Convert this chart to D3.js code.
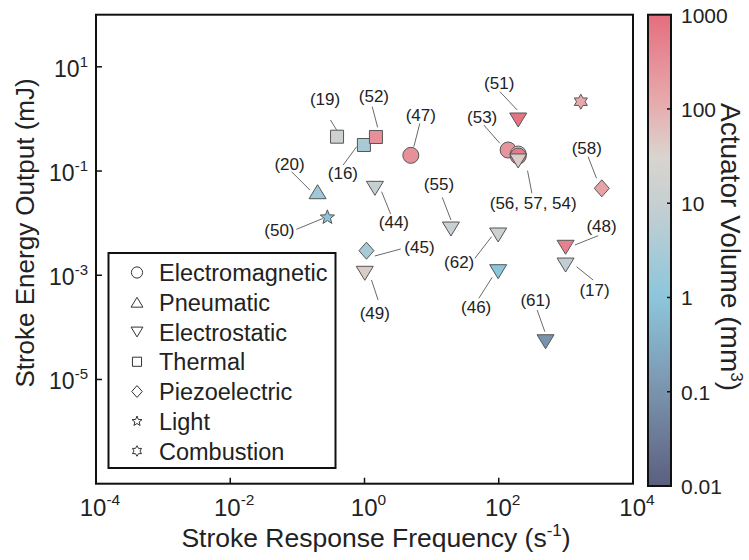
<!DOCTYPE html>
<html>
<head>
<meta charset="utf-8">
<script src="https://cdn.jsdelivr.net/npm/d3@7"></script>
<style>
  body { margin: 0; background: #fff; }
  text { font-family: "Liberation Sans", Arial, sans-serif; fill: #222; }
</style>
</head>
<body>
<div id="chart"></div>
<script>
// one entry per actuator (reference number, mechanism, frequency s^-1, energy mJ, volume mm^3)
const refs = ["19", "16", "52", "47", "53", "56", "57", "54", "51", "c1", "58", "44", "55", "62", "48", "17", "46", "61", "20", "50", "45", "49"];
const mechanism = ["thermal", "thermal", "thermal", "em", "em", "em", "em", "es", "es", "comb", "piezo", "es", "es", "es", "es", "es", "es", "es", "pneu", "light", "piezo", "es"];
const frequency = [0.39, 0.98, 1.48, 4.9, 138, 195, 195, 195, 195, 1670, 3430, 1.43, 19.4, 98, 990, 990, 98, 498, 0.2, 0.28, 1.07, 1.01];
const energy = [0.456, 0.316, 0.45, 0.2, 0.253, 0.212, 0.194, 0.156, 0.953, 2.14, 0.0466, 0.0466, 0.00772, 0.00592, 0.00344, 0.00157, 0.00117, 5.3e-5, 0.0401, 0.0129, 0.00296, 0.00109];
const volume = [15, 3, 300, 300, 250, 20, 600, 40, 800, 120, 150, 10, 12, 15, 500, 8, 1, 0.1, 2, 1, 3, 40];

// callouts
const labelText = ["(19)", "(52)", "(16)", "(47)", "(53)", "(56, 57, 54)", "(51)", "(58)", "(44)", "(55)", "(62)", "(48)", "(17)", "(46)", "(61)", "(20)", "(50)", "(45)", "(49)"];
const labelAnchor = ["19", "52", "16", "47", "53", "54", "51", "58", "44", "55", "62", "48", "17", "46", "61", "20", "50", "45", "49"];
// text centre offset from the marker, in px
const labelOffset = [[-12, -38], [-2, -41], [-21, 28], [10, -40], [-26, -33], [15, 42], [-19, -37], [-15, -40], [19, 34], [-12, -45], [-39, 27], [36, -21], [29, 25], [-22, 35], [-10, -42], [-28, -28], [-48, 13], [53, -4], [10, 40]];
// leader line from/to, relative to the marker
const leader = [[-6.6, -16.7, 0, -6], [-3.7, -30.3, 1.7, -9.7], [-20.7, 20, -7.3, 1.7], [9, -32, 3, -8.6], [-24.3, -25, -8.3, -6.7],
  [13.7, 32.3, 9.3, 9.7], [-18.3, -28.3, -1, -10], [-13.7, -31.6, -5.3, -10], [15.7, 25.7, 6.7, 3.4], [-8.7, -31.7, 0, -9],
  [-23.3, 23.3, -6.6, 1.7], [32.6, -11.6, 9.3, -2.3], [27.6, 15, 11, 1.7], [-19.3, 26.6, -6, 5.6], [-8.4, -31.7, -0.7, -10],
  [-26, -20, -7.7, -1.7], [-31, 12, -4.4, 1], [34.3, -1.7, 8.3, 5.3], [13.3, 26.7, 6.7, 6.7]];

const legendNames = ["Electromagnetic", "Pneumatic", "Electrostatic", "Thermal", "Piezoelectric", "Light", "Combustion"];
const legendKeys = ["em", "pneu", "es", "thermal", "piezo", "light", "comb"];

const xTickExp = [-4, -2, 0, 2, 4];
const yTickExp = [1, -1, -3, -5];
const cbarTicks = [1000, 100, 10, 1, 0.1, 0.01];
const cbarTickLabels = ["1000", "100", "10", "1", "0.1", "0.01"];

// colormap stops (log10 volume -> colour)
const cmapStops = [-2, -1, 0, 1, 1.5, 2, 3];
const cmapColors = ["#5b5f7e", "#7a93ad", "#8cc6dc", "#c6cfd1", "#d9d4ce", "#e6afb1", "#e56e7e"];

const W = 749, H = 560;
const PLOT = { left: 96, right: 633, top: 14.7, bottom: 483.7 };
const CBAR = { left: 648, right: 671 };

const svg = d3.select("#chart").append("svg")
  .attr("width", W).attr("height", H);

const x = d3.scaleLog().domain([1e-4, 1e4]).range([PLOT.left, PLOT.right]);
const y = d3.scaleLog().domain([1e-7, 1e2]).range([PLOT.bottom, PLOT.top]);
const cLog = d3.scaleLinear().domain(cmapStops).range(cmapColors).interpolate(d3.interpolateRgb);
const color = v => cLog(Math.log10(v));

// marker shapes, centred on 0,0
function shape(type, k) {
  const p = d3.path();
  if (type === "em") {
    p.arc(0, 0, 8 * k, 0, 2 * Math.PI);
  } else if (type === "pneu" || type === "es") {
    const w = 8.5 * k, h = 7 * k, s = type === "es" ? -1 : 1;
    p.moveTo(-w, h * s); p.lineTo(w, h * s); p.lineTo(0, -h * s); p.closePath();
  } else if (type === "thermal") {
    const a = 6.5 * k;
    p.rect(-a, -a, 2 * a, 2 * a);
  } else if (type === "piezo") {
    const w = 7.5 * k, h = 8.5 * k;
    p.moveTo(0, -h); p.lineTo(w, 0); p.lineTo(0, h); p.lineTo(-w, 0); p.closePath();
  } else if (type === "light") {
    const ro = 7.5 * k, ri = 3.2 * k;
    for (let i = 0; i < 10; i++) {
      const r = i % 2 ? ri : ro, a = -Math.PI / 2 + i * Math.PI / 5;
      i ? p.lineTo(r * Math.cos(a), r * Math.sin(a)) : p.moveTo(r * Math.cos(a), r * Math.sin(a));
    }
    p.closePath();
  } else if (type === "comb") {
    const ro = 7.5 * k, ri = 4.3 * k;
    for (let i = 0; i < 12; i++) {
      const r = i % 2 ? ri : ro, a = -Math.PI / 2 + i * Math.PI / 6;
      i ? p.lineTo(r * Math.cos(a), r * Math.sin(a)) : p.moveTo(r * Math.cos(a), r * Math.sin(a));
    }
    p.closePath();
  }
  return p.toString();
}

// frame
svg.append("rect")
  .attr("x", PLOT.left).attr("y", PLOT.top)
  .attr("width", PLOT.right - PLOT.left).attr("height", PLOT.bottom - PLOT.top)
  .attr("fill", "none").attr("stroke", "#111").attr("stroke-width", 2);

// ticks (inward)
svg.append("g").selectAll("line").data(xTickExp).join("line")
  .attr("x1", d => x(Math.pow(10, d))).attr("x2", d => x(Math.pow(10, d)))
  .attr("y1", PLOT.bottom).attr("y2", PLOT.bottom - 6)
  .attr("stroke", "#111").attr("stroke-width", 1.5);
svg.append("g").selectAll("line").data(yTickExp).join("line")
  .attr("x1", PLOT.left).attr("x2", PLOT.left + 6)
  .attr("y1", d => y(Math.pow(10, d))).attr("y2", d => y(Math.pow(10, d)))
  .attr("stroke", "#111").attr("stroke-width", 1.5);

// tick labels
const xt = svg.append("g").selectAll("text").data(xTickExp).join("text")
  .attr("x", d => x(Math.pow(10, d)) + 4).attr("y", 516)
  .attr("text-anchor", "middle").style("font-size", "24px");
xt.append("tspan").text("10");
xt.append("tspan").attr("dy", -11).style("font-size", "15.5px").text(d => d);

const yt = svg.append("g").selectAll("text").data(yTickExp).join("text")
  .attr("x", 88).attr("y", d => y(Math.pow(10, d)) + 10)
  .attr("text-anchor", "end").style("font-size", "23px");
yt.append("tspan").text("10");
yt.append("tspan").attr("dy", -10).style("font-size", "15px").text(d => d);

// axis titles
const xTitle = svg.append("text").attr("x", 376).attr("y", 547)
  .attr("text-anchor", "middle").style("font-size", "26.5px");
xTitle.append("tspan").text("Stroke Response Frequency (s");
xTitle.append("tspan").attr("dy", -11).style("font-size", "17px").text("-1");
xTitle.append("tspan").attr("dy", 11).text(")");

svg.append("text")
  .attr("transform", "translate(34,233) rotate(-90)")
  .attr("text-anchor", "middle").style("font-size", "26px")
  .text("Stroke Energy Output (mJ)");

// points
const idx = d3.range(refs.length);
const pos = i => [x(frequency[i]), y(energy[i])];

// leader lines
const g = svg.append("g");
g.selectAll("line").data(labelAnchor).join("line")
  .each(function (r, j) {
    const [px, py] = pos(refs.indexOf(r));
    const l = leader[j];
    d3.select(this).attr("x1", px + l[0]).attr("y1", py + l[1]).attr("x2", px + l[2]).attr("y2", py + l[3]);
  })
  .attr("stroke", "#6a6a6a").attr("stroke-width", 1);

svg.append("g").selectAll("path").data(idx).join("path")
  .attr("d", i => shape(mechanism[i], 1))
  .attr("transform", i => "translate(" + pos(i) + ")")
  .attr("fill", i => color(volume[i]))
  .attr("stroke", "#555").attr("stroke-width", 1);

svg.append("g").selectAll("text").data(labelAnchor).join("text")
  .attr("x", (r, j) => pos(refs.indexOf(r))[0] + labelOffset[j][0])
  .attr("y", (r, j) => pos(refs.indexOf(r))[1] + labelOffset[j][1] + 6)
  .attr("text-anchor", "middle").style("font-size", "17px")
  .text((r, j) => labelText[j]);

// legend
const lg = svg.append("g");
lg.append("rect").attr("x", 108.5).attr("y", 253).attr("width", 227).attr("height", 215)
  .attr("fill", "#fff").attr("stroke", "#111").attr("stroke-width", 2);
const rowY = d3.scaleLinear().domain([0, 6]).range([272.5, 451]);
lg.selectAll("path").data(legendKeys).join("path")
  .attr("d", d => shape(d, 0.7))
  .attr("transform", (d, i) => "translate(137," + rowY(i) + ")")
  .attr("fill", "#fff").attr("stroke", "#333").attr("stroke-width", 1);
lg.selectAll("text").data(legendNames).join("text")
  .attr("x", 159).attr("y", (d, i) => rowY(i) + 8.5)
  .style("font-size", "23.5px").text(d => d);

// colour bar
const cb = d3.scaleLog().domain([0.01, 1000]).range([486, PLOT.top]);
const grad = svg.append("defs").append("linearGradient")
  .attr("id", "cgrad").attr("x1", 0).attr("x2", 0).attr("y1", 1).attr("y2", 0);
grad.selectAll("stop").data(d3.range(0, 1.0001, 0.05)).join("stop")
  .attr("offset", d => d)
  .attr("stop-color", d => cLog(-2 + 5 * d));
svg.append("rect")
  .attr("x", CBAR.left).attr("y", PLOT.top)
  .attr("width", CBAR.right - CBAR.left).attr("height", 486 - PLOT.top)
  .attr("fill", "url(#cgrad)").attr("stroke", "#111").attr("stroke-width", 2);
svg.append("g").selectAll("line").data(cbarTicks.slice(1, -1)).join("line")
  .attr("x1", CBAR.right).attr("x2", CBAR.right - 4)
  .attr("y1", d => cb(d)).attr("y2", d => cb(d))
  .attr("stroke", "#111").attr("stroke-width", 1.5);
svg.append("g").selectAll("text").data(cbarTicks).join("text")
  .attr("x", 681).attr("y", d => cb(d) + 8)
  .style("font-size", "21px")
  .text((d, i) => cbarTickLabels[i]);

const cTitle = svg.append("text")
  .attr("transform", "translate(721,247) rotate(90)")
  .attr("text-anchor", "middle").style("font-size", "28px");
cTitle.append("tspan").text("Actuator Volume (mm");
cTitle.append("tspan").attr("dy", -10).style("font-size", "17px").text("3");
cTitle.append("tspan").attr("dy", 10).text(")");
</script>
</body>
</html>
